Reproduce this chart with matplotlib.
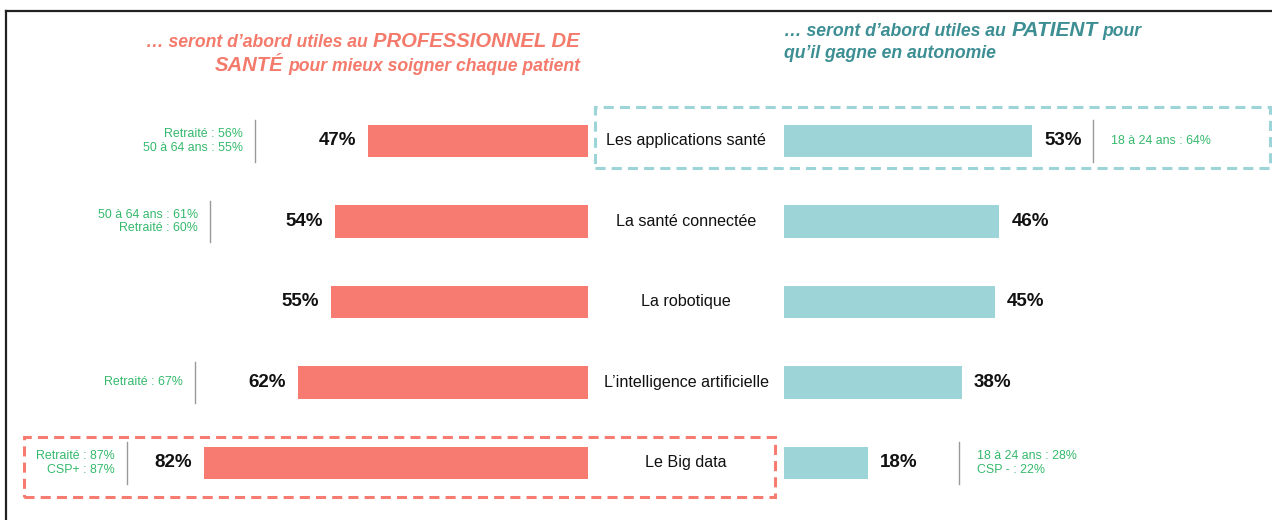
import matplotlib.pyplot as plt
from matplotlib.patches import Rectangle
from matplotlib.lines import Line2D
from matplotlib.transforms import blended_transform_factory

plt.rcParams['font.family'] = ['Liberation Sans', 'DejaVu Sans']

# Données
categories = ["Les applications santé", "La santé connectée", "La robotique",
              "L’intelligence artificielle", "Le Big data"]
pro_values = [47, 54, 55, 62, 82]
patient_values = [53, 46, 45, 38, 18]
pro_notes = [["Retraité : 56%", "50 à 64 ans : 55%"],
             ["50 à 64 ans : 61%", "Retraité : 60%"],
             [],
             ["Retraité : 67%"],
             ["Retraité : 87%", "CSP+ : 87%"]]
patient_notes = [["18 à 24 ans : 64%"], [], [], [],
                 ["18 à 24 ans : 28%", "CSP - : 22%"]]

RED = "#f77b70"
TEAL = "#9dd4d8"
GREEN = "#34b96c"
W, H = 1272, 520
SCALE = 4.68  # px par point de %

fig = plt.figure(figsize=(W / 100, H / 100), dpi=100)

# y: rangée 0 à 141 px, pas de 80.5 px
step = 80.5
ylim = ((H - 141) / step, -141 / step)

ax_l = fig.add_axes([24 / W, 0, (588 - 24) / W, 1])
ax_l.set_xlim((588 - 24) / SCALE, 0)
ax_r = fig.add_axes([784 / W, 0, (1268 - 784) / W, 1])
ax_r.set_xlim(0, (1268 - 784) / SCALE)
for ax in (ax_l, ax_r):
    ax.set_ylim(*ylim)
    ax.axis("off")

ypos = list(range(len(categories)))
ax_l.barh(ypos, pro_values, height=0.4, color=RED)
ax_r.barh(ypos, patient_values, height=0.4, color=TEAL)

for i, (vp, vt) in enumerate(zip(pro_values, patient_values)):
    ax_l.annotate(f"{vp}%", (vp, i), xytext=(-12, 0), textcoords="offset pixels",
                  ha="right", va="center", fontsize=13.5, fontweight="bold", color="#111111")
    ax_r.annotate(f"{vt}%", (vt, i), xytext=(12, 0), textcoords="offset pixels",
                  ha="left", va="center", fontsize=13.5, fontweight="bold", color="#111111")

# libellés au centre
trans = blended_transform_factory(fig.transFigure, ax_l.transData)
for i, cat in enumerate(categories):
    fig.text(686 / W, i, cat, transform=trans, ha="center", va="center",
             fontsize=11.6, color="#111111")

# sous-groupes
pro_sep = [71.2, 80.8, None, 84.0, 98.5]
pat_sep = [66.0, None, None, None, 37.4]
for i, notes in enumerate(pro_notes):
    if not notes:
        continue
    x = pro_sep[i]
    ax_l.plot([x, x], [i - 0.26, i + 0.26], color="#999999", lw=1)
    ax_l.annotate("\n".join(notes), (x, i), xytext=(-12, 0), textcoords="offset pixels",
                  ha="right", va="center", multialignment="right",
                  fontsize=8.9, color=GREEN, linespacing=1.2)
for i, notes in enumerate(patient_notes):
    if not notes:
        continue
    x = pat_sep[i]
    ax_r.plot([x, x], [i - 0.26, i + 0.26], color="#999999", lw=1)
    ax_r.annotate("\n".join(notes), (x, i), xytext=(18, 0), textcoords="offset pixels",
                  ha="left", va="center", multialignment="left",
                  fontsize=8.9, color=GREEN, linespacing=1.2)

# cadres pointillés
fig.patches.append(Rectangle((595 / W, 1 - 168 / H), (1270 - 595) / W, 61 / H,
                             transform=fig.transFigure, fill=False, ec=TEAL, lw=2.2,
                             ls=(0, (3.3, 2)), zorder=5))
fig.patches.append(Rectangle((24 / W, 1 - 497 / H), (775 - 24) / W, 60 / H,
                             transform=fig.transFigure, fill=False, ec=RED, lw=2.2,
                             ls=(0, (3.3, 2)), zorder=5))

# bordure
fig.lines.append(Line2D([6 / W, 1], [1 - 11 / H, 1 - 11 / H], transform=fig.transFigure,
                        color="#222222", lw=1.6))
fig.lines.append(Line2D([6 / W, 6 / W], [0, 1 - 11 / H], transform=fig.transFigure,
                        color="#222222", lw=1.6))

# titres en morceaux
fig.canvas.draw()
renderer = fig.canvas.get_renderer()


def title_line(pieces, x, y, ha, color):
    texts, widths = [], []
    for s, fs in pieces:
        t = fig.text(0, 1 - y / H, s, fontsize=fs, fontweight="bold", fontstyle="italic",
                     color=color, va="baseline", ha="left")
        texts.append(t)
        widths.append(t.get_window_extent(renderer).width)
    gaps = [0.278 * pieces[k][1] * 100 / 72 for k in range(1, len(pieces))]
    total = sum(widths) + sum(gaps)
    cur = x if ha == "left" else x - total
    for k, t in enumerate(texts):
        t.set_x(cur / W)
        cur += widths[k]
        if k < len(gaps):
            cur += gaps[k]


title_line([("… seront d’abord utiles au", 12.7), ("PROFESSIONNEL DE", 14.6)],
           580, 47, "right", "#f47a6c")
title_line([("SANTÉ", 14.6), ("pour mieux soigner chaque patient", 12.7)],
           580, 71, "right", "#f47a6c")
title_line([("… seront d’abord utiles au", 12.7), ("PATIENT", 15), ("pour", 12.7)],
           784, 36, "left", "#3d8f94")
title_line([("qu’il gagne en autonomie", 12.7)], 784, 58, "left", "#3d8f94")

fig.savefig("out.png", dpi=100)
